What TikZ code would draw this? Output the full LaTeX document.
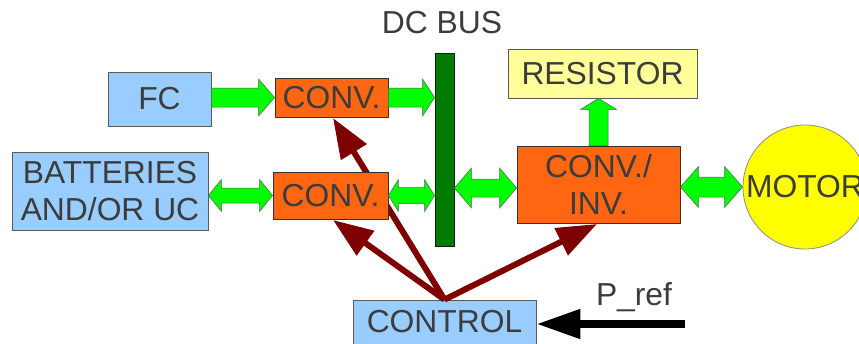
\documentclass[tikz,border=0pt]{standalone}
\usepackage{fontspec}
\setmainfont{Liberation Sans}
\usetikzlibrary{arrows.meta,calc}

\definecolor{txt}{HTML}{3C3C3C}
\definecolor{edge}{HTML}{5A5A5A}
\definecolor{skyfill}{HTML}{99CCFF}
\definecolor{orangefill}{HTML}{FF6611}
\definecolor{lemon}{HTML}{FFFF99}
\definecolor{motorfill}{HTML}{FFFF00}
\definecolor{busgreen}{HTML}{007A00}
\definecolor{flowgreen}{HTML}{00FF00}
\definecolor{ctrlred}{HTML}{7F0000}

\tikzset{
  lbl/.style={text=txt, font=\fontsize{31.8}{36.5}\selectfont, align=center, inner sep=0pt},
  block/.style={lbl, rectangle, draw=edge, line width=0.8pt},
  srcbox/.style={block, fill=skyfill},
  convbox/.style={block, fill=orangefill, draw=black!80},
  resbox/.style={block, fill=lemon},
  flow/.style={fill=flowgreen, draw=edge, line width=0.5pt, line join=miter},
  ctrlline/.style={draw=ctrlred, line width=6pt, -{Triangle[length=40pt,width=29pt]}},
  refline/.style={draw=black, line width=8pt, -{Triangle[length=44pt,width=28pt]}},
}

% horizontal block arrow, head at #2; #3 shaft half-width, #4 head half-width, #5 head length
\newcommand\fwdarrow[5]{%
  \draw[flow] let \p1=(#1), \p2=(#2) in
    (\x1,\y2+#3) -- (\x2-#5,\y2+#3) -- (\x2-#5,\y2+#4) -- (\x2,\y2)
    -- (\x2-#5,\y2-#4) -- (\x2-#5,\y2-#3) -- (\x1,\y2-#3) -- cycle;}
% horizontal block arrow with heads at both ends (#1 left end, #2 right end)
\newcommand\botharrow[5]{%
  \draw[flow] let \p1=(#1), \p2=(#2) in
    (\x1,\y2) -- (\x1+#5,\y2+#4) -- (\x1+#5,\y2+#3) -- (\x2-#5,\y2+#3)
    -- (\x2-#5,\y2+#4) -- (\x2,\y2) -- (\x2-#5,\y2-#4) -- (\x2-#5,\y2-#3)
    -- (\x1+#5,\y2-#3) -- (\x1+#5,\y2-#4) -- cycle;}
% vertical block arrow pointing up from #1 to #2
\newcommand\uparrowblock[5]{%
  \draw[flow] let \p1=(#1), \p2=(#2) in
    (\x1-#3,\y1) -- (\x1-#3,\y2-#5) -- (\x1-#4,\y2-#5) -- (\x1,\y2)
    -- (\x1+#4,\y2-#5) -- (\x1+#3,\y2-#5) -- (\x1+#3,\y1) -- cycle;}

\begin{document}
\begin{tikzpicture}[x=1pt,y=-1pt]
  \useasboundingbox (0,0) rectangle (859,343);
  \clip (0,0) rectangle (859,343);

  % control unit and the set-point input
  \node[srcbox, minimum width=183pt, minimum height=44pt] (ctrl) at (444.5,322) {CONTROL};
  \coordinate (pin) at (685,324);
  \node[lbl] (preflbl) at (634,297) {P\_ref};

  % positions of the converters (drawn after the control lines)
  \coordinate (cA) at (331.5,97.5);
  \coordinate (cB) at (330.5,195.5);
  \coordinate (cI) at (598.5,184.5);

  % control signals, behind the blocks
  \draw[ctrlline] (ctrl.north) -- ([xshift=1.5pt,yshift=-1pt]cA |- 0,117);
  \draw[ctrlline] (ctrl.north) -- ([xshift=2.5pt]cB |- 0,220);
  \draw[ctrlline] (ctrl.north) -- ([xshift=-1.5pt]cI |- 0,224);

  % sources
  \node[srcbox, minimum width=103pt, minimum height=54pt] (fc) at (159.5,99) {FC};
  \node[srcbox, minimum width=196pt, minimum height=78pt] (batt) at (110,191) {BATTERIES\\AND/OR UC};

  % converters
  \node[convbox, minimum width=113pt, minimum height=39pt] (conva) at (cA) {CONV.};
  \node[convbox, minimum width=115pt, minimum height=47pt] (convb) at (cB) {CONV.};
  \node[convbox, minimum width=163pt, minimum height=77pt, text depth=0pt] (inv) at (cI) {CONV./\\INV.};

  % DC bus
  \node[rectangle, fill=busgreen, draw=black!70!busgreen, line width=0.8pt,
        minimum width=19pt, minimum height=193pt, inner sep=0pt] (bus) at (444.5,149.5) {};
  \node[lbl] (buslbl) at (442,23) {DC BUS};

  % loads
  \node[resbox, minimum width=189pt, minimum height=49pt] (res) at (602.5,73.5) {RESISTOR};
  \node[lbl, circle, draw=edge!70, line width=0.8pt, fill=motorfill, minimum size=124pt] (motor) at (805,187) {MOTOR};

  % power flows
  \fwdarrow{fc.east}{conva.west}{9.5pt}{18.5pt}{16pt}
  \fwdarrow{conva.east}{bus.west |- conva.west}{9.5pt}{18.5pt}{12pt}
  \botharrow{batt.east |- convb.west}{convb.west}{7.5pt}{16pt}{13pt}
  \botharrow{convb.east}{bus.west |- convb.east}{8pt}{16pt}{10pt}
  \botharrow{bus.east |- 0,188}{[yshift=-3.5pt]inv.west}{9pt}{20pt}{17pt}
  \botharrow{inv.east |- motor.west}{motor.west}{10pt}{20.5pt}{18pt}
  \uparrowblock{inv.north}{res.south}{9.5pt}{18pt}{11pt}

  % set-point arrow into the control unit
  \draw[refline] (pin) -- (ctrl.east |- pin);
\end{tikzpicture}
\end{document}
